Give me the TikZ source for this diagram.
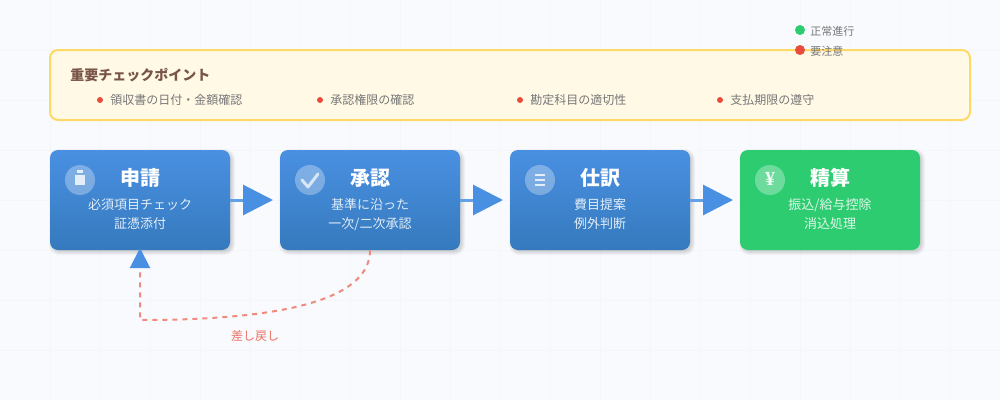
\documentclass[tikz,border=0pt]{standalone}
\usepackage{fontspec}
\usetikzlibrary{arrows.meta}
\setmainfont{Noto Sans CJK JP}
\newfontfamily\yenfont{Liberation Serif}
\definecolor{bgc}{HTML}{F8FAFD}
\definecolor{gridc}{HTML}{F4F6F9}
\definecolor{bluetop}{HTML}{4A90E2}
\definecolor{bluebot}{HTML}{357ABD}
\definecolor{greenc}{HTML}{2ECC71}
\definecolor{redc}{HTML}{E74C3C}
\definecolor{backc}{HTML}{EF8A7F}
\definecolor{panelc}{HTML}{FFF9E6}
\definecolor{paneld}{HTML}{FFD966}
\definecolor{brownc}{HTML}{795548}
\definecolor{greyc}{HTML}{777777}
\definecolor{flowc}{HTML}{64A0E6}
\tikzset{
  x=0.75pt,y=-0.75pt,
  boxbase/.style={rectangle,rounded corners=6pt,minimum width=135pt,minimum height=75pt,inner sep=0pt,draw=none},
  bluebox/.style={boxbase,top color=bluetop,bottom color=bluebot},
  greenbox/.style={boxbase,fill=greenc},
  ttl/.style={text=white,font=\fontsize{15}{18}\selectfont\bfseries,inner sep=0pt},
  sub/.style={text=white,text opacity=0.85,font=\fontsize{9.75}{14.25}\selectfont,align=center,inner sep=0pt},
  badge/.style={circle,fill=white,fill opacity=0.3,minimum size=22.5pt,inner sep=0pt,draw=none},
  flow/.style={draw=flowc,line width=2.25pt,-{Triangle[length=22.5pt,width=22.5pt,color=bluetop]}},
  back/.style={draw=backc,line width=1.5pt,dash pattern=on 3.75pt off 3.75pt,-{Triangle[length=15pt,width=15pt,color=bluetop]}},
  dotlab/.style={anchor=west,inner sep=0pt,text=greyc,font=\fontsize{9}{11}\selectfont},
  leglab/.style={anchor=west,inner sep=0pt,text=greyc,font=\fontsize{8.25}{10}\selectfont},
}
\newcommand{\softshadow}[2]{%
  \foreach \g in {3,2,1,0,-1}{
    \path[fill=black,fill opacity=0.035,rounded corners=6pt+\g*0.6pt]
      (#1+2-\g,#2+2-\g) rectangle (#1+182+\g,#2+102+\g);
  }}
\begin{document}
\begin{tikzpicture}
\useasboundingbox (0,0) rectangle (1000,400);
\fill[bgc] (0,0) rectangle (1000,400);
\foreach \v in {50,100,...,950}{\draw[gridc,line width=0.75pt] (\v,0) -- (\v,400);}
\foreach \v in {50,100,...,350}{\draw[gridc,line width=0.75pt] (0,\v) -- (1000,\v);}

% panel
\node[rectangle,rounded corners=6pt,minimum width=690pt,minimum height=52.5pt,inner sep=0pt,fill=panelc,draw=paneld,line width=1.5pt] (panel) at (510,85) {};
\node[anchor=west,inner sep=0pt,text=brownc,font=\fontsize{10.5}{13}\selectfont\bfseries] (ptitle) at (70,75) {重要チェックポイント};
\foreach \n/\xx/\t in {a/100/領収書の日付・金額確認,b/320/承認権限の確認,c/520/勘定科目の適切性,d/720/支払期限の遵守}{
  \fill[redc] (\xx,100) circle[radius=3];
  \node[dotlab] (chk\n) at (\xx+10,100) {\t};
}

% legend
\fill[greenc] (800,30) circle[radius=5];
\node[leglab] (lega) at (810,31) {正常進行};
\fill[redc] (800,50) circle[radius=5];
\node[leglab] (legb) at (810,51) {要注意};

% shadows
\softshadow{50}{150}
\softshadow{280}{150}
\softshadow{510}{150}
\softshadow{740}{150}

% boxes
\node[bluebox] (n1) at (140,200) {};
\node[bluebox] (n2) at (370,200) {};
\node[bluebox] (n3) at (600,200) {};
\node[greenbox] (n4) at (830,200) {};

% connectors
\coordinate (t1) at (273,200);
\coordinate (t2) at (503,200);
\coordinate (t3) at (733,200);
\draw[flow] (n1.east) -- (t1);
\draw[flow] (n2.east) -- (t2);
\draw[flow] (n3.east) -- (t3);
\coordinate (bk1) at (140,320);
\coordinate (bk2) at (140,248);
\draw[back] (n2.south) .. controls (370,296.7) and (293.3,320) .. (bk1) -- (bk2);
\node[inner sep=0pt,text=redc!80!white,font=\fontsize{9}{11}\selectfont] (bklab) at (255,336) {差し戻し};

% badges
\node[badge] (b1) at (80,180) {};
\node[badge] (b2) at (310,180) {};
\node[badge] (b3) at (540,180) {};
\node[badge] (b4) at (770,180) {};
\fill[white,fill opacity=0.8] (75,175) rectangle (85,185);
\fill[white,fill opacity=0.8] (77,170) rectangle (83,173);
\draw[white,draw opacity=0.7,line width=2.25pt,line cap=round,line join=round] (302,180) -- (308,187) -- (318,174);
\foreach \v in {175,180,185}{\draw[white,draw opacity=0.8,line width=1.5pt] (535,\v) -- (545,\v);}
\node[inner sep=0pt,text=white,text opacity=0.9,font=\fontsize{15}{18}\yenfont\bfseries] (yen) at (770,179) {¥};

% texts
\node[ttl] (t1a) at (140,178) {申請};
\node[sub] (s1) at (140,214.5) {必須項目チェック\\証憑添付};
\node[ttl] (t2a) at (370,178) {承認};
\node[sub] (s2) at (370,214.5) {基準に沿った\\一次/二次承認};
\node[ttl] (t3a) at (600,178) {仕訳};
\node[sub] (s3) at (600,214.5) {費目提案\\例外判断};
\node[ttl] (t4a) at (830,178) {精算};
\node[sub] (s4) at (830,214.5) {振込/給与控除\\消込処理};
\end{tikzpicture}
\end{document}
